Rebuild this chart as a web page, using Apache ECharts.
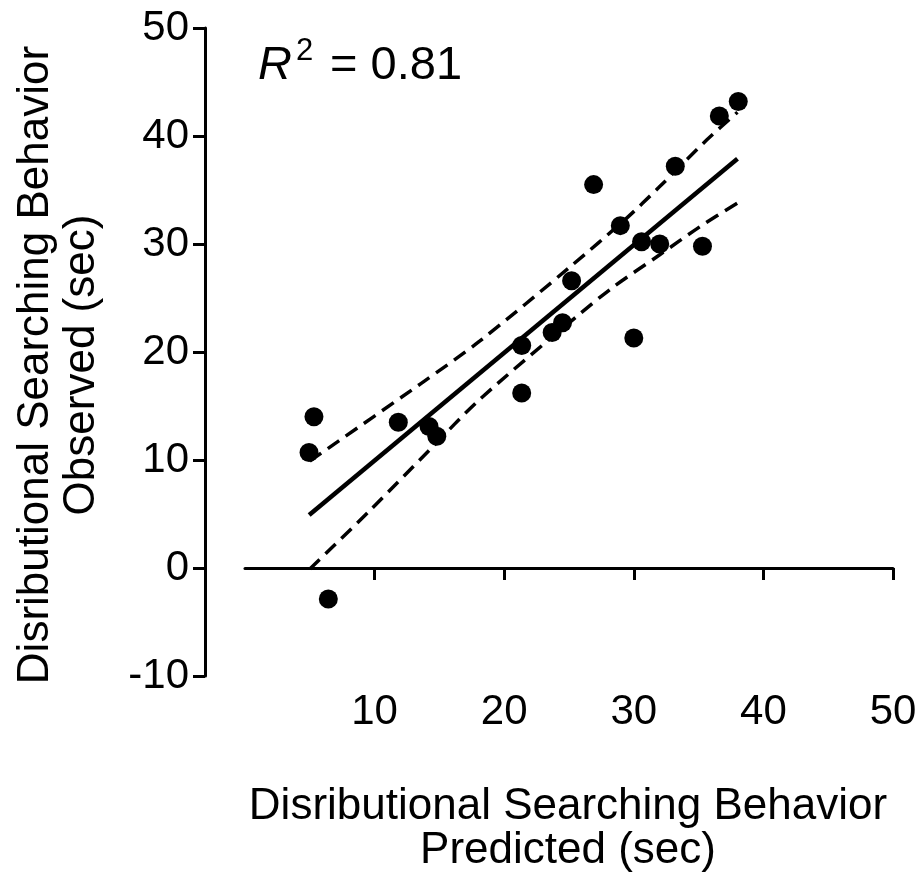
<!DOCTYPE html>
<html>
<head>
<meta charset="utf-8">
<script src="https://cdn.jsdelivr.net/npm/echarts@6/dist/echarts.min.js"></script>
<style>
  html, body { margin: 0; padding: 0; background: #fff; }
  #chart { width: 923px; height: 874px; }
</style>
</head>
<body>
<div id="chart"></div>
<script>
// observed vs predicted points
const predX = [4.94, 5.32, 6.43, 11.83, 14.2, 14.8, 21.35, 21.35, 23.7, 24.5, 25.2, 26.9, 28.96, 30.0, 30.6, 32.0, 33.2, 35.3, 36.6, 38.06];
const obsY = [10.7, 14.0, -2.87, 13.5, 13.1, 12.2, 16.2, 20.6, 21.8, 22.7, 26.6, 35.5, 31.7, 21.3, 30.2, 30.0, 37.2, 29.8, 41.85, 43.2];

// regression line
const fitX = [4.95, 38];
const fitY = [4.9, 37.9];

// 95% confidence bands
const upperX = [5, 13.6, 18.1, 25.1, 29.45, 31.9, 35.6, 38];
const upperY = [9.9, 17.1, 21.0, 27.9, 32.4, 35.2, 39.6, 42.2];
const lowerX = [5, 9.7, 14.3, 18.1, 25.6, 28.4, 32.0, 35.1, 38];
const lowerY = [-0.1, 5.4, 11.0, 15.6, 23.3, 26.0, 29.0, 31.6, 33.8];

const xTicks = [10, 20, 30, 40, 50];

const FONT = 'Liberation Sans, Arial, sans-serif';
const zip = (xs, ys) => xs.map((x, i) => [x, ys[i]]);

const chart = echarts.init(document.getElementById('chart'));
chart.setOption({
  animation: false,
  backgroundColor: '#fff',
  grid: { left: 245, right: 30, top: 28, bottom: 198 },
  xAxis: {
    type: 'value',
    min: 0,
    max: 50,
    interval: 10,
    axisLine: { onZero: true, lineStyle: { color: '#000', width: 3 } },
    axisTick: { customValues: xTicks, length: 12, lineStyle: { color: '#000', width: 3 } },
    axisLabel: { customValues: xTicks, margin: 15, color: '#000', fontSize: 42, fontFamily: FONT },
    splitLine: { show: false }
  },
  yAxis: {
    type: 'value',
    min: -10,
    max: 50,
    interval: 10,
    offset: 40,
    axisLine: { onZero: false, lineStyle: { color: '#000', width: 3 } },
    axisTick: { length: 12, lineStyle: { color: '#000', width: 3 } },
    axisLabel: { margin: 16, color: '#000', fontSize: 42, fontFamily: FONT },
    splitLine: { show: false }
  },
  graphic: [
    {
      type: 'text', x: 568, y: 829,
      style: {
        text: 'Disributional Searching Behavior\nPredicted (sec)',
        fill: '#000', font: '44px ' + FONT, align: 'center', verticalAlign: 'middle', lineHeight: 44
      }
    },
    {
      type: 'text', x: 59, y: 365, rotation: Math.PI / 2,
      style: {
        text: 'Disributional Searching Behavior\nObserved (sec)',
        fill: '#000', font: '44px ' + FONT, align: 'center', verticalAlign: 'middle', lineHeight: 46
      }
    },
    {
      type: 'text', x: 258, y: 66,
      style: { text: 'R', fill: '#000', font: 'italic 47px ' + FONT, verticalAlign: 'middle' }
    },
    {
      type: 'text', x: 296, y: 51,
      style: { text: '2', fill: '#000', font: '31px ' + FONT, verticalAlign: 'middle' }
    },
    {
      type: 'text', x: 317, y: 66,
      style: { text: ' = 0.81', fill: '#000', font: '47px ' + FONT, verticalAlign: 'middle' }
    }
  ],
  series: [
    {
      type: 'line',
      data: zip(upperX, upperY),
      symbol: 'none',
      smooth: 0.3,
      lineStyle: { color: '#000', width: 3.5, type: [14, 8] }
    },
    {
      type: 'line',
      data: zip(lowerX, lowerY),
      symbol: 'none',
      smooth: 0.3,
      lineStyle: { color: '#000', width: 3.5, type: [14, 8] }
    },
    {
      type: 'line',
      data: zip(fitX, fitY),
      symbol: 'none',
      lineStyle: { color: '#000', width: 4.5 }
    },
    {
      type: 'scatter',
      data: zip(predX, obsY),
      symbol: 'circle',
      symbolSize: 19,
      itemStyle: { color: '#000', opacity: 1 },
      z: 5
    }
  ]
});
</script>
</body>
</html>
